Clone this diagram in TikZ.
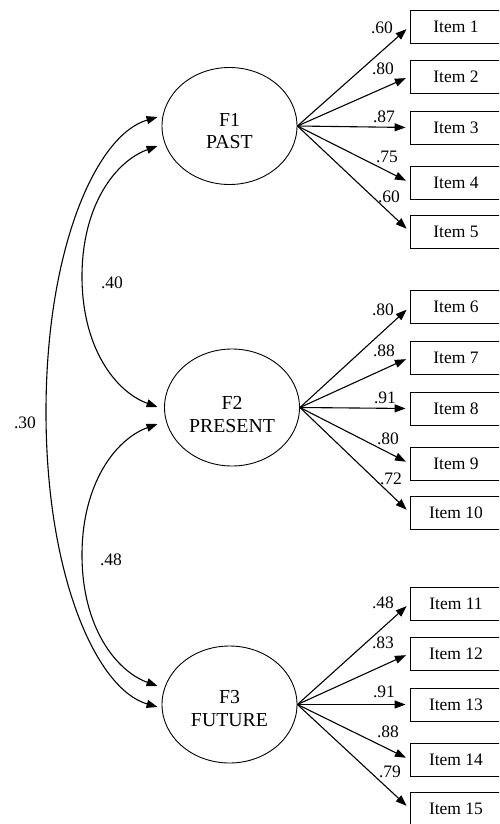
\documentclass[tikz,border=0pt]{standalone}
\usepackage{fontspec}
\setmainfont{Liberation Serif}
\usetikzlibrary{shapes.geometric,arrows.meta,calc}
\begin{document}
\begin{tikzpicture}[x=1pt,y=-1pt,
  latent/.style={draw,ellipse,line width=0.9pt,minimum width=135pt,minimum height=117pt,inner sep=0pt},
  ftext/.style={align=center,font=\fontsize{19.8}{22.5}\selectfont,inner sep=0pt},
  itembox/.style={draw,rectangle,line width=0.9pt,minimum width=92pt,minimum height=33pt,inner sep=0pt,font=\fontsize{17.5}{20}\selectfont},
  load/.style={line width=1.1pt,-{Triangle[length=11pt,width=8pt]},shorten >=4pt},
  corr/.style={line width=1.1pt,{Triangle[length=11pt,width=8pt]}-{Triangle[length=11pt,width=8pt]}},
  coef/.style={font=\fontsize{17.5}{20}\selectfont,inner sep=0pt}]
\useasboundingbox (0,0) rectangle (499,824);
\clip (0,0) rectangle (499,824);

% latent factors
\node[latent] (F1) at (229.5,126) {};
\node[ftext] (F1t) at (229.5,131) {F1\\PAST};
\node[latent] (F2) at (232,407.5) {};
\node[ftext] (F2t) at (232,414.5) {F2\\PRESENT};
\node[latent] (F3) at (229.5,704.5) {};
\node[ftext] (F3t) at (229.5,708.5) {F3\\FUTURE};

% items
\foreach \n/\y in {1/26.5,2/76.5,3/127.5,4/182.5,5/231.5,6/307,7/357.5,8/408.5,9/463.5,10/512.5,11/603.5,12/653.5,13/704.5,14/759.5,15/808.5}
  \node[itembox] (I\n) at (456,\y) {Item \n};

% loadings
\foreach \n in {1,...,5} \draw[load] (F1.east) -- (I\n.west);
\foreach \n in {6,...,10} \draw[load] (F2.east) -- (I\n.west);
\foreach \n in {11,...,15} \draw[load] (F3.east) -- (I\n.west);

% loading values
\foreach \t/\x/\y [count=\i] in {.60/382/27.5,.80/383/68.5,.87/384/116.5,.75/387/157,.60/389/197,
  .80/383/310,.88/384/351,.91/385/398,.80/388/439,.72/391/479,
  .48/383/603,.83/383/643,.91/384/692,.88/388/732,.79/390/772}
  \node[coef] (L\i) at (\x,\y) {\t};

% correlation endpoints
\coordinate (a1) at ($(F1.west)+(-4,-9)$);
\coordinate (a2) at ($(F1.west)+(-4,20)$);
\coordinate (b1) at ($(F2.west)+(-6.5,-0.5)$);
\coordinate (b2) at ($(F2.west)+(-6.5,16.5)$);
\coordinate (c1) at ($(F3.west)+(-4,-18.5)$);
\coordinate (c2) at ($(F3.west)+(-4,2.5)$);
\coordinate (m1) at (46,412);
\coordinate (m2) at (82,276.5);
\coordinate (m3) at (82,555);

\draw[corr] (a1) .. controls (96,135) and (46,249) .. (m1) .. controls (46,575) and (96,689) .. (c2);
\draw[corr] (a2) .. controls (116,161) and (82,204.5) .. (m2) .. controls (82,348.5) and (116,392) .. (b1);
\draw[corr] (b2) .. controls (116,439) and (82,483) .. (m3) .. controls (82,627) and (116,671) .. (c1);

\node[coef] (r12) at (112,283) {.40};
\node[coef] (r13) at (25,423) {.30};
\node[coef] (r23) at (111,560) {.48};
\end{tikzpicture}
\end{document}
